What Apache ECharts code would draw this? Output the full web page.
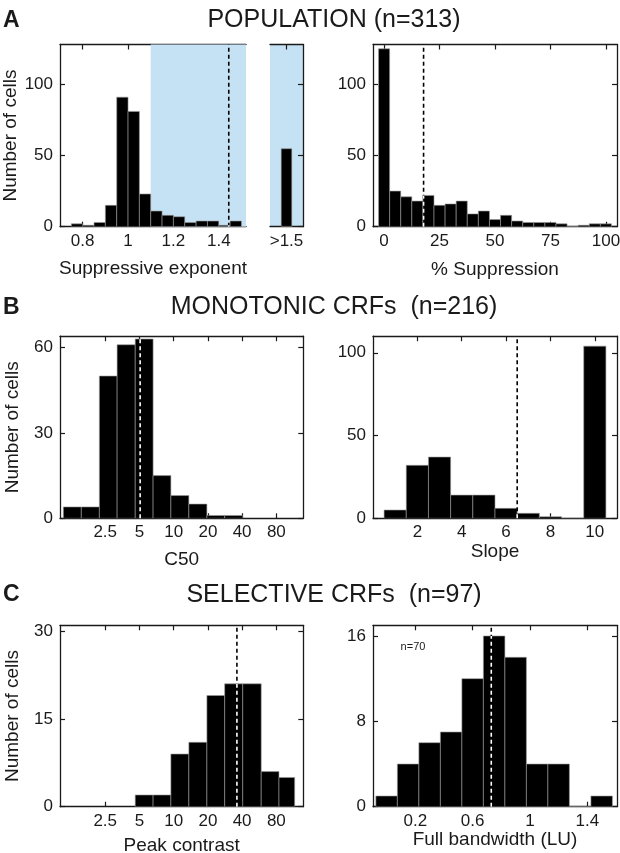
<!DOCTYPE html>
<html><head><meta charset="utf-8">
<script src="https://cdn.jsdelivr.net/npm/echarts@6/dist/echarts.min.js"></script>
<style>html,body{margin:0;padding:0;background:#fff}#c{width:620px;height:853px}</style>
</head><body><div id="c"></div><script>
// ---------- DATA ----------
// Panel A (left): suppressive exponent
const expBinEdges = [0.75,0.80,0.85,0.90,0.95,1.00,1.05,1.10,1.15,1.20,1.25,1.30,1.35,1.40,1.45,1.50];
const expCounts = [2,1,3,15,91,81,23,11,8,7,3,4,4,1,4];
const expOverflowCategory = ['>1.5'];
const expOverflowCount = [55];
const expMedian = 1.444;
const expShadeStart = 1.1;
const expTicks = [0.8,1,1.2,1.4];
// Panel A (right): % suppression
const suppBinEdges = [-2.5,2.5,7.5,12.5,17.5,22.5,27.5,32.5,37.5,42.5,47.5,52.5,57.5,62.5,67.5,72.5,77.5,82.5,87.5,92.5,97.5,102.5];
const suppCounts = [125,25,21,18,22,15,16,18,9,11,5,8,4,3,3,3,2,0,1,2,2];
const suppMedian = 17.8;
const suppTicks = [0,25,50,75,100];
const popYTicks = [0,50,100];
// Panel B (left): C50 (log axis)
const c50BinEdges = [1.07,1.54,2.22,3.18,4.59,6.59,9.45,13.6,19.6,28.1,40.5];
const c50Counts = [4,4,50,61,63,15,8,5,1,1];
const c50Median = 5.07;
const logTickValues = [2.5,5,10,20,40,80];
const logTickLabels = ['2.5','5','10','20','40','80'];
const c50YTicks = [0,30,60];
// Panel B (right): slope
const slopeBinEdges = [0.5,1.5,2.5,3.5,4.5,5.5,6.5,7.5,8.5,9.5,10.5];
const slopeCounts = [5,32,37,14,14,6,3,1,0,104];
const slopeMedian = 6.5;
const slopeTicks = [2,4,6,8,10];
const slopeYTicks = [0,50,100];
// Panel C (left): peak contrast (log axis)
const peakBinEdges = [4.59,6.59,9.45,13.6,19.6,28.1,40.5,58.9,84.4,116];
const peakCounts = [2,2,9,11,19,21,21,6,5];
const peakMedian = 36;
const peakYTicks = [0,15,30];
// Panel C (right): full bandwidth
const bwBinEdges = [-0.075,0.075,0.225,0.375,0.525,0.675,0.825,0.975,1.125,1.275,1.425,1.575];
const bwCounts = [1,4,6,7,12,16,14,4,4,0,1];
const bwMedian = 0.73;
const bwTicks = [0.2,0.6,1,1.4];
const bwYTicks = [0,8,16];

// ---------- BUILD ----------
const FONT = 'Liberation Sans, Arial, Helvetica, sans-serif';
const INK = '#1a1a1a';
const BLUE = '#c5e2f5';
const grids = [], xAxes = [], yAxes = [], series = [];
const lineSt = {color: INK, width: 1.3};
const tickSt = {color: INK, width: 1.2};

function addGrid(left, top, width, height, extra) {
  grids.push(Object.assign({left, top, width, height, outerBoundsMode: 'none', containLabel: false}, extra || {}));
  return grids.length - 1;
}
function fmtFor(vals, labels) {
  return function (v) {
    let best = 0;
    for (let i = 1; i < vals.length; i++) if (Math.abs(vals[i] - v) < Math.abs(vals[best] - v)) best = i;
    return labels[best];
  };
}
function valueXAxes(g, min, max, ticks, fmt, name, nameGap) {
  xAxes.push({type: 'value', gridIndex: g, min, max, position: 'bottom',
    axisLine: {show: true, onZero: false, lineStyle: lineSt},
    axisTick: {show: true, inside: true, length: 5, customValues: ticks, lineStyle: tickSt},
    axisLabel: {show: true, customValues: ticks, formatter: fmt, fontSize: 17, color: INK, margin: 6, fontFamily: FONT},
    splitLine: {show: false},
    name, nameLocation: 'middle', nameGap, nameTextStyle: {fontSize: 19, color: INK, fontFamily: FONT}});
  const bottom = xAxes.length - 1;
  xAxes.push({type: 'value', gridIndex: g, min, max, position: 'top',
    axisLine: {show: true, onZero: false, lineStyle: lineSt},
    axisTick: {show: true, inside: true, length: 5, customValues: ticks, lineStyle: tickSt},
    axisLabel: {show: false}, splitLine: {show: false}});
  return bottom;
}
function yAxesFor(g, max, ticks, withName, leftSide, rightSide) {
  let idx = null;
  if (leftSide) {
    yAxes.push({type: 'value', gridIndex: g, min: 0, max, position: 'left',
      axisLine: {show: true, onZero: false, lineStyle: lineSt},
      axisTick: {show: true, inside: true, length: 5, customValues: ticks, lineStyle: tickSt},
      axisLabel: {show: true, customValues: ticks, fontSize: 17, color: INK, margin: 7, fontFamily: FONT},
      splitLine: {show: false},
      name: withName ? 'Number of cells' : '', nameLocation: 'middle', nameGap: 38,
      nameTextStyle: {fontSize: 19, color: INK, fontFamily: FONT}});
    idx = yAxes.length - 1;
  }
  if (rightSide) {
    yAxes.push({type: 'value', gridIndex: g, min: 0, max, position: 'right',
      axisLine: {show: true, onZero: false, lineStyle: lineSt},
      axisTick: {show: true, inside: true, length: 5, customValues: ticks, lineStyle: tickSt},
      axisLabel: {show: false}, splitLine: {show: false}});
    if (idx === null) idx = yAxes.length - 1;
  }
  return idx;
}
function histSeries(xi, yi, edges, counts, tx) {
  const data = counts.map((c, i) => [tx(edges[i]), tx(edges[i + 1]), c]);
  series.push({type: 'custom', xAxisIndex: xi, yAxisIndex: yi, data, encode: {x: [0, 1], y: 2},
    silent: true, z: 3, clip: true,
    renderItem: function (params, api) {
      const p0 = api.coord([api.value(0), api.value(2)]);
      const p1 = api.coord([api.value(1), 0]);
      return {type: 'rect', shape: {x: p0[0], y: p0[1], width: p1[0] - p0[0], height: p1[1] - p0[1]},
        style: {fill: '#000', stroke: '#9a9a9a', lineWidth: 0.6}};
    }});
}
function medianSeries(xi, yi, median, yMax, edges, counts, tx) {
  let h = 0;
  for (let i = 0; i < counts.length; i++) if (median >= edges[i] && median < edges[i + 1]) h = counts[i];
  const m = tx(median);
  series.push({type: 'line', xAxisIndex: xi, yAxisIndex: yi, data: [[m, 0], [m, yMax]], symbol: 'none',
    silent: true, z: 4, lineStyle: {color: '#000', width: 1.6, type: [4, 3]}});
  series.push({type: 'line', xAxisIndex: xi, yAxisIndex: yi, data: [[m, 0], [m, h]], symbol: 'none',
    silent: true, z: 5, lineStyle: {color: '#fff', width: 1.6, type: [4, 3]}});
}
const ident = v => v;
const lg = v => Math.log2(v);
const logTicks = logTickValues.map(lg);
const logFmt = fmtFor(logTicks, logTickLabels);
const numFmt = v => String(Math.round(v * 1000) / 1000);

// Geometry
const topA = 44.5, hA = 182.2, topB = 336.2, hB = 182.1, topC = 625.3, hC = 181.4;
const xL = 60, xR = 373, wL = 243.3, wR = 244;

// ---- Panel A left (main part) ----
{
  const yMax = 128, xMin = 0.7, xMax = 1.52;
  const g = addGrid(xL, topA, 186, hA);
  const xi = valueXAxes(g, xMin, xMax, expTicks, numFmt, 'Suppressive exponent', 33);
  const yi = yAxesFor(g, yMax, popYTicks, true, true, false);
  series.push({type: 'custom', xAxisIndex: xi, yAxisIndex: yi, data: [[expShadeStart, xMax]], encode: {x: [0, 1]},
    silent: true, z: 1,
    renderItem: function (params, api) {
      const p0 = api.coord([api.value(0), yMax]);
      const p1 = api.coord([api.value(1), 0]);
      return {type: 'rect', shape: {x: p0[0], y: p0[1], width: p1[0] - p0[0], height: p1[1] - p0[1]}, style: {fill: BLUE}};
    }});
  histSeries(xi, yi, expBinEdges, expCounts, ident);
  medianSeries(xi, yi, expMedian, yMax, expBinEdges, expCounts, ident);
}
// ---- Panel A left (overflow part) ----
{
  const yMax = 128;
  const g = addGrid(270, topA, 33, hA, {show: true, backgroundColor: BLUE, borderWidth: 0});
  xAxes.push({type: 'category', gridIndex: g, data: expOverflowCategory, position: 'bottom',
    axisLine: {show: true, onZero: false, lineStyle: lineSt}, axisTick: {show: false},
    axisLabel: {show: true, fontSize: 17, color: INK, margin: 6, fontFamily: FONT}});
  const xi = xAxes.length - 1;
  xAxes.push({type: 'category', gridIndex: g, data: expOverflowCategory, position: 'top',
    axisLine: {show: true, onZero: false, lineStyle: lineSt},
    axisTick: {show: true, inside: true, length: 5, alignWithLabel: true, lineStyle: tickSt},
    axisLabel: {show: false}});
  const yi = yAxesFor(g, yMax, popYTicks, false, false, true);
  series.push({type: 'bar', xAxisIndex: xi, yAxisIndex: yi, data: expOverflowCount, barWidth: '34%', silent: true, z: 3,
    itemStyle: {color: '#000', borderColor: '#9a9a9a', borderWidth: 0.6}});
}
// ---- Panel A right ----
{
  const yMax = 128;
  const g = addGrid(xR, topA, wR, hA);
  const xi = valueXAxes(g, -5, 105, suppTicks, numFmt, '% Suppression', 34);
  const yi = yAxesFor(g, yMax, popYTicks, false, true, true);
  histSeries(xi, yi, suppBinEdges, suppCounts, ident);
  medianSeries(xi, yi, suppMedian, yMax, suppBinEdges, suppCounts, ident);
}
// ---- Panel B left ----
{
  const yMax = 64;
  const g = addGrid(xL, topB, wL, hB);
  const xi = valueXAxes(g, 0, 7.11, logTicks, logFmt, 'C50', 32);
  const yi = yAxesFor(g, yMax, c50YTicks, true, true, true);
  histSeries(xi, yi, c50BinEdges, c50Counts, lg);
  medianSeries(xi, yi, c50Median, yMax, c50BinEdges, c50Counts, lg);
}
// ---- Panel B right ----
{
  const yMax = 110;
  const g = addGrid(xR, topB, wR, hB);
  const xi = valueXAxes(g, 0, 11, slopeTicks, numFmt, 'Slope', 19);
  const yi = yAxesFor(g, yMax, slopeYTicks, false, true, true);
  histSeries(xi, yi, slopeBinEdges, slopeCounts, ident);
  medianSeries(xi, yi, slopeMedian, yMax, slopeBinEdges, slopeCounts, ident);
}
// ---- Panel C left ----
{
  const yMax = 31;
  const g = addGrid(xL, topC, wL, hC);
  const xi = valueXAxes(g, 0, 7.11, logTicks, logFmt, 'Peak contrast', 30);
  const yi = yAxesFor(g, yMax, peakYTicks, true, true, true);
  histSeries(xi, yi, peakBinEdges, peakCounts, lg);
  medianSeries(xi, yi, peakMedian, yMax, peakBinEdges, peakCounts, lg);
}
// ---- Panel C right ----
{
  const yMax = 17;
  const g = addGrid(xR, topC, wR, hC);
  const xi = valueXAxes(g, -0.095, 1.607, bwTicks, numFmt, 'Full bandwidth (LU)', 23);
  const yi = yAxesFor(g, yMax, bwYTicks, false, true, true);
  histSeries(xi, yi, bwBinEdges, bwCounts, ident);
  medianSeries(xi, yi, bwMedian, yMax, bwBinEdges, bwCounts, ident);
}

function txt(text, x, y, size, opts) {
  return {type: 'text', x, y, silent: true,
    style: Object.assign({text, fontSize: size, fontFamily: FONT, fill: INK, align: 'center', verticalAlign: 'middle'}, (opts || {}).style || {})};
}
const graphic = [
  txt('POPULATION (n=313)', 334, 20, 25),
  txt('MONOTONIC CRFs  (n=216)', 334, 307.5, 25),
  txt('SELECTIVE CRFs  (n=97)', 334, 595, 25),
  txt('A', 3, 21, 23, {style: {align: 'left', fontWeight: 'bold'}}),
  txt('B', 3, 307.5, 23, {style: {align: 'left', fontWeight: 'bold'}}),
  txt('C', 3, 595, 23, {style: {align: 'left', fontWeight: 'bold'}}),
  txt('n=70', 413, 647, 11)
];

const chart = echarts.init(document.getElementById('c'), null, {renderer: 'canvas'});
chart.setOption({animation: false, backgroundColor: '#fff', textStyle: {fontFamily: FONT},
  grid: grids, xAxis: xAxes, yAxis: yAxes, series, graphic});
</script></body></html>
